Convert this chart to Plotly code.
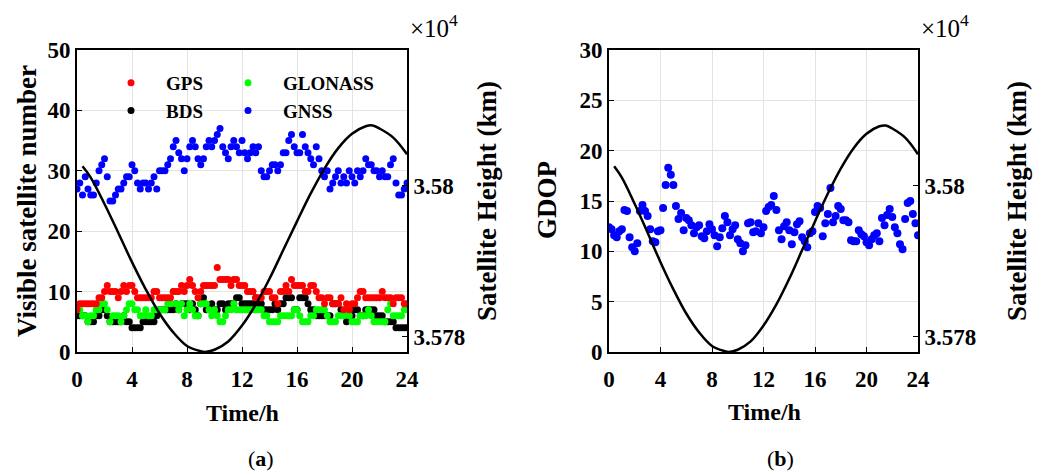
import numpy as np
import plotly.graph_objects as go

# ---------------- data ----------------
hours = np.round(np.arange(0, 24.001, 0.2), 1)  # sampling epochs (h)

gps = [7, 8, 8, 8, 8, 8, 8, 8, 9, 9,
       10, 11, 10, 10, 10, 9, 10, 11, 10, 11,
       11, 10, 9, 9, 9, 9, 9, 9, 10, 10,
       9, 9, 9, 9, 9, 10, 10, 10, 11, 10,
       11, 12, 11, 10, 9, 10, 11, 11, 11, 11,
       11, 14, 12, 12, 12, 12, 11, 12, 12, 11,
       11, 11, 10, 10, 10, 9, 9, 9, 10, 10,
       10, 9, 9, 8, 10, 10, 11, 10, 12, 11,
       11, 11, 11, 10, 10, 11, 11, 10, 9, 9,
       8, 9, 9, 8, 8, 8, 9, 7, 8, 7,
       8, 8, 9, 10, 10, 9, 9, 9, 9, 9,
       9, 10, 9, 9, 9, 8, 9, 9, 9, 8,
       8]

bds = [6, 6, 6, 6, 5, 5, 5, 6, 6, 7,
       7, 6, 5, 5, 5, 5, 5, 6, 5, 5,
       4, 4, 4, 4, 5, 5, 5, 5, 5, 6,
       7, 7, 7, 7, 7, 7, 8, 7, 8, 8,
       8, 7, 8, 7, 6, 8, 9, 7, 7, 8,
       7, 7, 8, 8, 7, 8, 8, 8, 9, 9,
       8, 8, 8, 8, 8, 9, 8, 8, 7, 7,
       7, 7, 8, 7, 8, 8, 9, 9, 9, 7,
       7, 9, 9, 9, 8, 7, 7, 6, 6, 6,
       6, 6, 6, 8, 8, 8, 7, 6, 5, 6,
       6, 7, 7, 6, 6, 7, 7, 7, 7, 6,
       6, 6, 5, 5, 5, 5, 4, 4, 4, 4,
       4]

glonass = [7, 7, 6, 6, 5, 6, 6, 7, 7, 8,
           8, 7, 5, 6, 6, 6, 5, 6, 7, 8,
           8, 7, 7, 6, 6, 7, 6, 6, 7, 7,
           7, 7, 7, 8, 8, 10, 8, 7, 8, 6,
           7, 8, 7, 6, 6, 8, 8, 8, 7, 6,
           7, 6, 5, 5, 6, 7, 7, 8, 7, 7,
           7, 7, 7, 7, 7, 7, 7, 7, 6, 6,
           5, 5, 5, 5, 6, 6, 6, 6, 6, 7,
           7, 6, 5, 5, 5, 6, 6, 7, 7, 7,
           7, 6, 5, 5, 5, 6, 6, 6, 7, 6,
           5, 5, 5, 6, 6, 6, 7, 6, 5, 5,
           5, 5, 5, 7, 8, 6, 6, 6, 6, 7,
           7]

gnss = [27, 28, 26, 29, 27, 26, 26, 28, 30, 31,
        32, 29, 25, 25, 26, 27, 27, 28, 29, 29,
        31, 30, 28, 27, 28, 28, 27, 28, 29, 27,
        30, 30, 30, 31, 32, 34, 35, 33, 32, 30,
        32, 34, 35, 34, 32, 31, 32, 34, 35, 34,
        35, 36, 37, 34, 33, 32, 34, 35, 34, 33,
        35, 33, 32, 33, 34, 33, 34, 30, 29, 29,
        30, 31, 31, 30, 31, 33, 33, 35, 36, 34,
        33, 33, 36, 34, 33, 32, 31, 34, 32, 30,
        29, 30, 27, 28, 29, 30, 28, 29, 28, 30,
        29, 28, 30, 29, 30, 32, 31, 31, 30, 30,
        29, 30, 29, 29, 31, 32, 28, 26, 26, 27,
        28]

gdop = [12.4, 12.2, 11.6, 11.4, 12.0, 12.2, 14.1, 14.0, 11.4, 10.4,
        10.0, 10.8, 14.0, 14.6, 14.0, 13.5, 12.2, 11.0, 10.9, 12.0,
        12.1, 14.3, 16.6, 18.3, 17.6, 16.6, 14.5, 13.2, 13.8, 12.1,
        13.3, 13.1, 12.6, 11.8, 12.4, 12.6, 11.5, 11.3, 12.0, 12.7,
        12.2, 11.6, 10.5, 11.4, 12.3, 13.5, 12.9, 11.6, 12.2, 12.6,
        11.2, 10.8, 10.0, 10.6, 12.8, 12.9, 11.9, 12.0, 12.8, 11.8,
        12.4, 14.0, 14.4, 14.6, 15.5, 14.1, 12.1, 11.2, 12.5, 12.9,
        12.1, 10.7, 11.9, 12.7, 13.0, 11.4, 11.0, 10.4, 11.8, 12.0,
        13.9, 14.5, 14.3, 11.5, 12.8, 13.7, 16.3, 12.9, 13.5, 14.5,
        14.2, 13.1, 13.1, 12.9, 11.1, 11.0, 11.0, 12.1, 11.7, 11.5,
        10.9, 10.6, 11.2, 11.6, 11.8, 11.0, 13.3, 12.6, 13.6, 14.2,
        13.4, 12.4, 11.8, 10.7, 10.2, 13.2, 14.8, 15.0, 13.7, 12.8,
        11.6]

# satellite height (x 10^4 km)
height_hours = [0.4, 1, 2, 3, 4, 5, 6, 7, 8, 9, 9.3, 10, 11, 12, 13, 14, 15,
                16, 17, 18, 19, 20, 21, 21.5, 22, 23, 24]
height = [3.58026, 3.58011, 3.57976, 3.57938, 3.57899, 3.57863, 3.57831,
          3.57806, 3.57788, 3.57781, 3.57780, 3.57783, 3.57794, 3.57815,
          3.57843, 3.57877, 3.57915, 3.57953, 3.57990, 3.58023, 3.58050,
          3.58069, 3.58079, 3.58080, 3.58076, 3.58064, 3.58042]

height_range = [3.5778, 3.5818]
height_ticks = [3.578, 3.58]
height_ticktext = ["3.578", "3.58"]

# ---------------- figure ----------------
FONT = "Liberation Serif"
fig = go.Figure()

pt = dict(mode="markers", xaxis="x", yaxis="y")
fig.add_trace(go.Scatter(x=hours, y=bds, name="BDS", marker=dict(color="black", size=7),
                         legend="legend", legendrank=2, **pt))
fig.add_trace(go.Scatter(x=hours, y=glonass, name="GLONASS", marker=dict(color="#00ff00", size=7),
                         legend="legend2", legendrank=1, **pt))
fig.add_trace(go.Scatter(x=hours, y=gps, name="GPS", marker=dict(color="#ff0000", size=7),
                         legend="legend", legendrank=1, **pt))
fig.add_trace(go.Scatter(x=hours, y=gnss, name="GNSS", marker=dict(color="#0000ff", size=7),
                         legend="legend2", legendrank=2, **pt))
fig.add_trace(go.Scatter(x=height_hours, y=height, mode="lines", line=dict(color="black", width=2.5, shape="spline"),
                         xaxis="x", yaxis="y2", showlegend=False))

fig.add_trace(go.Scatter(x=hours, y=gdop, mode="markers", marker=dict(color="#0000ff", size=8),
                         xaxis="x2", yaxis="y3", showlegend=False))
fig.add_trace(go.Scatter(x=height_hours, y=height, mode="lines", line=dict(color="black", width=2.5, shape="spline"),
                         xaxis="x2", yaxis="y4", showlegend=False))

tickfont = dict(family=FONT, size=23, color="black", weight="bold")
common_x = dict(range=[0, 24], tickvals=[0, 4, 8, 12, 16, 20, 24], showgrid=True, gridcolor="#e3e3e3",
                gridwidth=1, showline=True, linecolor="black", linewidth=2, mirror=True,
                ticks="inside", ticklen=5, tickcolor="black", tickfont=tickfont, zeroline=False,
                automargin=False, ticklabelstandoff=5)
common_y = dict(showgrid=True, gridcolor="#e3e3e3", gridwidth=1, showline=True, linecolor="black",
                linewidth=2, ticks="inside", ticklen=5, tickcolor="black", tickfont=tickfont,
                zeroline=False, automargin=False)
right_y = dict(side="right", range=height_range, tickvals=height_ticks, ticktext=height_ticktext,
               showgrid=False, showline=True, linecolor="black", linewidth=2, ticks="inside",
               ticklen=5, tickcolor="black", tickfont=tickfont, zeroline=False, automargin=False)

ydom = [1 - 352 / 471, 1 - 50 / 471]
legfont = dict(family=FONT, size=19, weight="bold", color="black")
fig.update_layout(
    width=1057, height=471,
    margin=dict(l=0, r=0, t=0, b=0, autoexpand=False),
    paper_bgcolor="white", plot_bgcolor="white",
    font=dict(family=FONT, color="black"),
    xaxis=dict(domain=[77 / 1057, 407 / 1057], anchor="y", **common_x),
    yaxis=dict(domain=ydom, anchor="x", range=[0, 50], tickvals=[0, 10, 20, 30, 40, 50], **common_y),
    yaxis2=dict(overlaying="y", anchor="x", **right_y),
    xaxis2=dict(domain=[609 / 1057, 918 / 1057], anchor="y3", **common_x),
    yaxis3=dict(domain=ydom, anchor="x2", range=[0, 30], tickvals=[0, 5, 10, 15, 20, 25, 30], **common_y),
    yaxis4=dict(overlaying="y3", anchor="x2", **right_y),
    legend=dict(x=96 / 1057, y=1 - 64 / 471, xanchor="left", yanchor="top", orientation="v",
                bgcolor="rgba(0,0,0,0)", font=legfont,
                itemsizing="trace", itemwidth=60, tracegroupgap=0),
    legend2=dict(x=213 / 1057, y=1 - 64 / 471, xanchor="left", yanchor="top", orientation="v",
                 bgcolor="rgba(0,0,0,0)", font=legfont,
                 itemsizing="trace", itemwidth=60, tracegroupgap=0),
)

title_font = dict(family=FONT, size=27, color="black", weight="bold")
xt_font = dict(family=FONT, size=24, color="black", weight="bold")
exp_font = dict(family=FONT, size=25, color="black")
ann = [
    dict(text="Visible satellite number", x=27 / 1057, y=1 - 201 / 471, textangle=-90, font=title_font),
    dict(text="Satellite Height (km)", x=487 / 1057, y=1 - 201 / 471, textangle=-90, font=title_font),
    dict(text="GDOP", x=547 / 1057, y=1 - 200 / 471, textangle=-90, font=title_font),
    dict(text="Satellite Height (km)", x=1017 / 1057, y=1 - 201 / 471, textangle=-90, font=title_font),
    dict(text="Time/h", x=242 / 1057, y=1 - 413 / 471, font=xt_font),
    dict(text="Time/h", x=764 / 1057, y=1 - 412 / 471, font=xt_font),
    dict(text="(<b>a</b>)", x=261 / 1057, y=1 - 458 / 471, font=dict(family=FONT, size=22, color="black")),
    dict(text="(<b>b</b>)", x=780 / 1057, y=1 - 458 / 471, font=dict(family=FONT, size=22, color="black")),
    dict(text="×10<sup>4</sup>", x=408 / 1057, y=1 - 26 / 471, xanchor="left", font=exp_font),
    dict(text="×10<sup>4</sup>", x=919 / 1057, y=1 - 26 / 471, xanchor="left", font=exp_font),
]
for a in ann:
    a.setdefault("xanchor", "center")
    a.update(xref="paper", yref="paper", showarrow=False, yanchor="middle")
fig.update_layout(annotations=ann)

fig.write_html("out.html", config={"displayModeBar": False},
               post_script="document.body.style.margin='0';document.body.style.overflow='hidden';")
